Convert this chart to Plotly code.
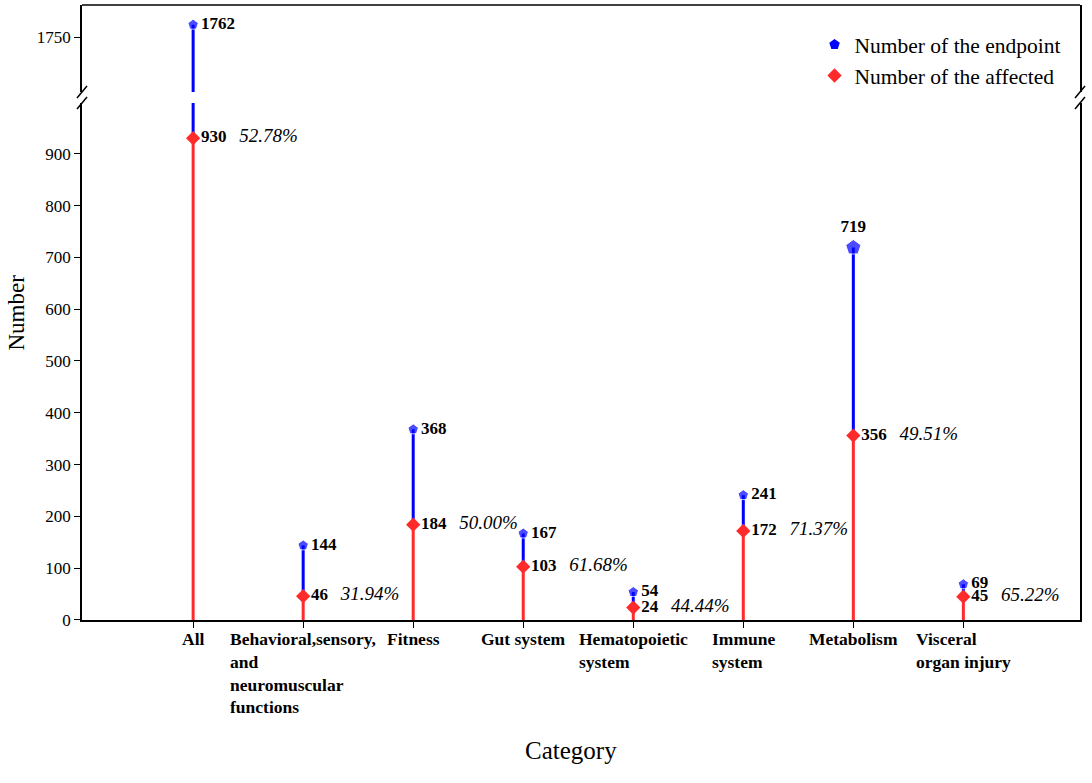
import plotly.graph_objects as go

# data
categories = ["All", "Behavioral,sensory,<br>and<br>neuromuscular<br>functions", "Fitness",
              "Gut system", "Hematopoietic<br>system", "Immune<br>system", "Metabolism",
              "Visceral<br>organ injury"]
endpoints = [1762, 144, 368, 167, 54, 241, 719, 69]
affected = [930, 46, 184, 103, 24, 172, 356, 45]

# styling
BLUE = "#0000FF"
RED = "#FF2B2B"
FONT = "Liberation Serif"
ep_size = [11, 11, 11, 11, 11, 11, 16, 11]
ep_textpos = ["middle right"] * 6 + ["top center", "middle right"]

x = list(range(len(categories)))
pct = [f"{a / e * 100:.2f}%" for a, e in zip(affected, endpoints)]

# stems
red_x, red_y, blue_x, blue_y = [], [], [], []
for i, (e, a) in enumerate(zip(endpoints, affected)):
    red_x += [i, i, None]
    red_y += [0, a, None]
    blue_x += [i, i, None]
    blue_y += [a, e, None]

fig = go.Figure()

for yax in ["y", "y2"]:
    fig.add_trace(go.Scatter(x=blue_x, y=blue_y, mode="lines", yaxis=yax,
                             line=dict(color=BLUE, width=3), showlegend=False, hoverinfo="skip"))
fig.add_trace(go.Scatter(x=red_x, y=red_y, mode="lines",
                         line=dict(color=RED, width=3), showlegend=False, hoverinfo="skip"))

ep_text = [f"<b>{e}</b>" for e in endpoints]
for yax in ["y", "y2"]:
    fig.add_trace(go.Scatter(
        x=x, y=endpoints, mode="markers+text", yaxis=yax,
        marker=dict(symbol="pentagon", size=ep_size, color=BLUE),
        text=ep_text, textposition=ep_textpos,
        textfont=dict(family=FONT, size=17, color="black"),
        showlegend=False, name="Number of the endpoint"))

af_text = [f"<b>{a}</b>\u00a0\u00a0\u00a0<span style='font-size:19px'><i>{p}</i></span>"
           for a, p in zip(affected, pct)]
fig.add_trace(go.Scatter(
    x=x, y=affected, mode="markers+text",
    marker=dict(symbol="diamond", size=11, color=RED),
    text=af_text, textposition="middle right",
    textfont=dict(family=FONT, size=17, color="black"),
    showlegend=False, name="Number of the affected"))

# legend-only entries
fig.add_trace(go.Scatter(x=[None], y=[None], mode="markers", name="Number of the endpoint",
                         marker=dict(symbol="pentagon", size=11, color=BLUE)))
fig.add_trace(go.Scatter(x=[None], y=[None], mode="markers", name="Number of the affected",
                         marker=dict(symbol="diamond", size=11, color=RED)))

# category labels (first line centred on tick, lines left aligned)
for i, c in enumerate(categories):
    fig.add_annotation(x=i, xref="x", y=0, yref="paper", yanchor="top", yshift=-7,
                       text=f"<b>{c}</b>", showarrow=False, align="left",
                       font=dict(family=FONT, size=17.5, color="black"))

fig.add_annotation(x=0, xref="paper", xanchor="center", xshift=-66, y=0.5, yref="paper",
                   text="Number", textangle=-90, showarrow=False,
                   font=dict(family=FONT, size=23, color="black"))
fig.add_annotation(x=0.49, xref="paper", xanchor="center", y=0, yref="paper", yshift=-146,
                   text="Category", showarrow=False,
                   font=dict(family=FONT, size=25, color="black"))

# top border and axis-break marks
fig.add_shape(type="line", xref="paper", yref="paper", x0=0, x1=1, y0=1, y1=1,
              line=dict(color="black", width=1.5))
for px_ in [0, 1]:
    for py_ in [0.8407, 0.8585]:
        fig.add_shape(type="line", xref="paper", yref="paper", xsizemode="pixel", ysizemode="pixel",
                      xanchor=px_, yanchor=py_, x0=-5, x1=5, y0=-6, y1=6,
                      line=dict(color="black", width=1.5))

axis_common = dict(showline=True, linecolor="black", linewidth=1.5, ticks="outside",
                   ticklen=6, tickcolor="black", showgrid=False, zeroline=False,
                   tickfont=dict(family=FONT, size=17, color="black"))

fig.update_layout(
    width=1092, height=783,
    margin=dict(l=82, r=12, t=5, b=163),
    plot_bgcolor="white", paper_bgcolor="white",
    font=dict(family=FONT, color="black"),
    xaxis=dict(range=[-1.01, 8.06], tickvals=x, showticklabels=False, **axis_common),
    yaxis=dict(domain=[0, 0.8407], range=[0, 998], tickvals=list(range(0, 1000, 100)),
               mirror=True, **axis_common),
    yaxis2=dict(domain=[0.8585, 1], range=[1697, 1781], tickvals=[1750], anchor="x",
                mirror=True, **axis_common),
    legend=dict(x=0.734, y=0.969, xanchor="left", yanchor="top",
                font=dict(family=FONT, size=21.5, color="black"),
                bgcolor="rgba(0,0,0,0)", tracegroupgap=0),
)

fig.write_html("out.html", config={"displayModeBar": False},
               post_script="document.body.style.margin='0';")
